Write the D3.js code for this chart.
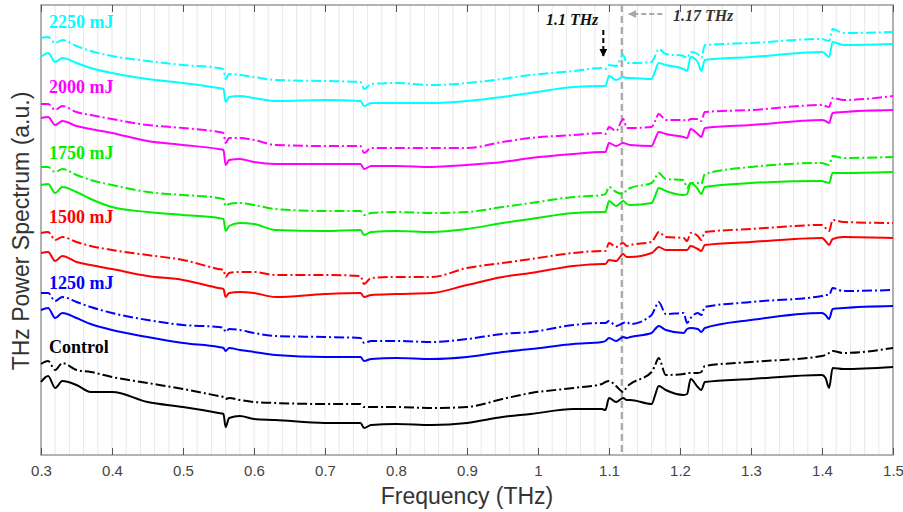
<!DOCTYPE html>
<html>
<head>
<meta charset="utf-8">
<script src="https://cdn.jsdelivr.net/npm/d3@7"></script>
<style>
  body { margin: 0; background: #fff; }
  svg { display: block; }
</style>
</head>
<body>
<svg id="chart"></svg>
<script>
// frequency grid (THz), shared by every trace
const freq = [0.30,0.31,0.32,0.33,0.35,0.37,0.40,0.45,0.50,0.55,0.557,0.56,0.565,0.58,0.60,0.63,0.70,0.75,0.755,0.765,0.80,0.85,0.90,0.95,0.99,1.05,1.09,1.095,1.10,1.11,1.12,1.125,1.13,1.16,1.165,1.17,1.18,1.205,1.21,1.215,1.225,1.23,1.235,1.30,1.40,1.405,1.41,1.415,1.43,1.50];

// power spectrum (a.u., offset per energy) - solid and dash-dot traces
const control_a = [7.3,7.9,6.7,7.4,7.0,6.3,6.3,5.3,4.8,4.2,4.1,2.8,3.7,3.9,3.6,3.5,3.2,3.2,2.7,3.0,3.1,3.0,3.2,3.8,4.1,4.6,4.6,4.5,5.7,5.3,5.7,5.5,5.5,5.1,6.0,6.9,6.5,6.0,6.1,7.6,6.8,6.5,7.3,7.6,8.0,7.7,6.7,8.7,8.6,8.8];
const control_b = [9.1,9.4,8.5,9.2,8.5,8.3,7.8,7.2,6.6,5.9,5.8,5.6,5.7,5.5,5.3,5.2,5.1,5.1,4.8,4.8,4.8,4.7,4.8,5.6,6.2,6.7,7.1,7.3,7.4,6.9,6.3,6.8,7.1,8.3,9.0,9.7,8.0,8.1,8.2,8.2,8.2,8.3,8.9,9.3,9.9,10.0,10.2,10.4,10.2,10.7];
const mj1250_a = [14.5,14.7,13.7,14.2,13.7,13.1,12.5,11.8,11.2,10.8,10.7,10.4,10.7,10.5,10.3,10.0,9.8,9.8,9.4,9.6,9.7,9.6,9.8,10.3,10.6,11.1,11.3,11.4,11.7,11.4,11.8,11.7,11.8,12.2,12.6,12.9,12.5,12.2,12.6,12.7,12.6,12.3,12.7,13.5,14.2,14.0,13.6,14.6,14.7,14.9];
const mj1250_b = [16.2,16.2,15.4,15.8,15.3,14.8,14.2,13.5,13.0,12.8,12.7,12.3,12.6,12.5,12.2,11.9,11.8,11.7,11.2,11.4,11.4,11.3,11.6,12.1,12.3,13.0,13.2,13.2,13.4,12.9,13.2,13.3,13.1,14.0,14.7,15.3,14.1,14.2,13.2,13.7,14.2,14.0,14.8,15.3,15.9,16.0,16.0,16.7,16.4,16.5];
const mj1500_a = [20.2,20.3,19.4,19.9,19.3,19.0,18.6,17.9,17.5,16.7,16.6,15.8,16.2,16.3,16.2,15.8,16.1,16.2,15.8,16.0,16.1,16.2,17.0,17.8,18.2,18.9,19.1,19.1,19.5,19.4,20.1,19.8,19.8,20.2,20.5,20.8,20.5,20.5,20.5,20.9,20.6,20.4,21.0,21.3,21.7,21.4,21.0,21.6,21.8,21.7];
const mj1500_b = [22.2,22.3,21.5,21.8,21.3,20.9,20.5,20.0,19.5,18.6,18.5,17.8,18.2,18.3,18.3,18.0,18.0,17.9,17.1,17.7,17.8,17.8,18.7,19.2,19.6,20.2,20.4,20.4,21.2,20.8,21.2,20.9,21.0,21.3,21.8,22.3,21.8,21.7,21.4,22.2,21.9,21.5,22.3,22.6,23.0,22.7,22.4,23.5,23.3,23.2];
const mj1750_a = [27.0,27.1,26.2,26.8,26.3,25.6,24.8,24.3,24.0,23.7,23.6,22.4,22.9,23.2,23.1,22.5,22.4,22.5,22.0,22.3,22.4,22.3,22.6,23.2,23.6,24.2,24.3,24.3,25.4,24.9,25.4,25.1,25.0,25.2,25.9,26.7,26.4,26.0,26.1,27.2,26.6,26.1,26.8,27.2,27.4,27.3,27.2,28.2,28.2,28.3];
const mj1750_b = [28.8,28.8,28.3,28.6,28.0,27.5,27.0,26.3,26.0,25.7,25.6,24.9,25.1,25.2,25.0,24.6,24.4,24.4,24.0,24.2,24.3,24.2,24.3,24.8,25.2,25.8,26.0,26.1,26.8,26.3,26.1,26.5,26.7,27.2,27.7,28.2,27.6,27.5,26.7,27.2,27.2,27.1,28.1,28.8,29.2,29.1,29.0,29.9,29.7,29.8];
const mj2000_a = [33.7,33.8,33.0,33.4,32.9,32.6,32.2,31.4,31.0,30.6,30.5,29.0,29.5,29.6,29.3,29.1,29.1,29.1,28.6,28.9,28.9,28.8,29.0,29.3,29.7,30.1,30.3,30.3,31.2,30.9,31.2,31.1,31.0,30.9,31.6,32.3,32.1,31.8,31.7,32.6,32.1,31.8,32.7,33.0,33.5,33.4,33.2,34.2,34.3,34.5];
const mj2000_b = [35.1,35.1,34.5,34.9,34.3,34.0,33.6,33.0,32.7,32.3,32.2,31.2,31.7,31.7,31.5,31.0,30.9,30.9,30.2,30.7,30.7,30.7,30.7,31.3,31.7,32.0,32.2,32.1,32.8,32.4,33.6,32.7,32.7,32.8,33.4,34.1,33.5,33.5,33.4,33.6,33.6,33.4,34.3,34.5,35.0,34.9,34.8,35.7,35.5,35.9];
const mj2250_a = [39.8,40.2,39.3,39.7,39.2,38.7,38.2,37.6,37.2,36.7,36.6,35.3,35.8,35.9,35.7,35.4,35.5,35.4,34.9,35.2,35.2,35.2,35.4,35.8,36.2,36.8,36.9,36.9,37.9,37.5,37.8,37.7,37.7,37.6,38.4,39.2,39.0,38.6,38.4,39.8,39.3,38.4,39.5,39.8,40.3,40.1,39.8,41.3,41.0,41.1];
const mj2250_b = [41.7,41.8,41.2,41.5,40.9,40.4,39.9,39.4,39.0,38.7,38.6,37.6,38.1,38.0,37.8,37.5,37.4,37.3,36.6,37.1,37.2,37.0,37.2,37.6,38.0,38.4,38.7,38.6,39.0,38.9,40.0,39.2,39.2,39.3,39.9,40.6,40.1,39.9,39.7,40.3,40.1,39.7,41.0,41.2,41.6,41.5,41.4,42.6,42.2,42.3];

const groupNames = ["Control", "1250 mJ", "1500 mJ", "1750 mJ", "2000 mJ", "2250 mJ"];
const groupColors = ["#000000", "#0000ff", "#ff0000", "#00ee00", "#ff00ff", "#00ffff"];
const solidSeries = [control_a, mj1250_a, mj1500_a, mj1750_a, mj2000_a, mj2250_a];
const dashSeries = [control_b, mj1250_b, mj1500_b, mj1750_b, mj2000_b, mj2250_b];
const labelLevels = [10.2, 16.6, 23.2, 29.6, 36.2, 42.7];

const xTicks = [0.3,0.4,0.5,0.6,0.7,0.8,0.9,1.0,1.1,1.2,1.3,1.4,1.5];
const markerFreq = 1.118;

const W = 903, H = 512;
const margin = {left: 41, right: 10, top: 5, bottom: 57};

const svg = d3.select("#chart").attr("width", W).attr("height", H);

const x = d3.scaleLinear().domain([0.3, 1.5]).range([margin.left, W - margin.right]);
const y = d3.scaleLinear().domain([0, 45]).range([H - margin.bottom, margin.top]);

// minor grid every 0.02 THz
const gridVals = d3.range(0, 61).map(i => 0.3 + i * 0.02);
svg.append("g").selectAll("line").data(gridVals).enter().append("line")
  .attr("x1", d => x(d)).attr("x2", d => x(d))
  .attr("y1", y(45)).attr("y2", y(0))
  .attr("stroke", "#e8e8e8").attr("stroke-width", 1);

// frame
svg.append("rect")
  .attr("x", x(0.3)).attr("y", y(45))
  .attr("width", x(1.5) - x(0.3)).attr("height", y(0) - y(45))
  .attr("fill", "none").attr("stroke", "#9a9a9a").attr("stroke-width", 1.5);

// bottom axis with inward ticks
const xAxis = d3.axisBottom(x).tickValues(xTicks)
  .tickSize(-7).tickPadding(10)
  .tickFormat(d => d3.format("~g")(+d.toFixed(1)));
const gx = svg.append("g").attr("transform", `translate(0,${y(0)})`).call(xAxis);
gx.select(".domain").remove();
gx.selectAll(".tick line").attr("stroke", "#555");
gx.selectAll("text").attr("fill", "#444").style("font-family", "Liberation Sans, Arial, sans-serif").style("font-size", "15px");

// top ticks
const gt = svg.append("g").attr("transform", `translate(0,${y(45)})`)
  .call(d3.axisTop(x).tickValues(xTicks).tickSize(-7).tickFormat(""));
gt.select(".domain").remove();
gt.selectAll(".tick line").attr("stroke", "#555");

// vertical marker line
svg.append("line")
  .attr("x1", x(markerFreq)).attr("x2", x(markerFreq))
  .attr("y1", y(45)).attr("y2", y(0))
  .attr("stroke", "#a8a8a8").attr("stroke-width", 2.2).attr("stroke-dasharray", "7,4");

const line = d3.line().x((d, i) => x(freq[i])).y(d => y(d)).curve(d3.curveMonotoneX);

// traces
solidSeries.forEach((s, k) => {
  svg.append("path").datum(s)
    .attr("d", line).attr("fill", "none")
    .attr("stroke", groupColors[k]).attr("stroke-width", 2)
    .attr("stroke-linejoin", "round");
});
dashSeries.forEach((s, k) => {
  svg.append("path").datum(s)
    .attr("d", line).attr("fill", "none")
    .attr("stroke", groupColors[k]).attr("stroke-width", 2)
    .attr("stroke-dasharray", "10,3,2,3");
});

// group labels
svg.append("g").selectAll("text").data(groupNames).enter().append("text")
  .attr("x", x(0.3) + 8).attr("y", (d, i) => y(labelLevels[i]))
  .attr("fill", (d, i) => groupColors[i])
  .style("font-family", "Liberation Serif, Times New Roman, serif")
  .style("font-weight", "bold").style("font-size", "18px")
  .text(d => d);

// arrow heads
const defs = svg.append("defs");
defs.append("marker").attr("id", "ahBlack").attr("viewBox", "0 0 10 10")
  .attr("refX", 9).attr("refY", 5).attr("markerWidth", 4).attr("markerHeight", 4)
  .attr("orient", "auto").append("path").attr("d", "M0,0L10,5L0,10z").attr("fill", "#000");
defs.append("marker").attr("id", "ahGray").attr("viewBox", "0 0 10 10")
  .attr("refX", 9).attr("refY", 5).attr("markerWidth", 4).attr("markerHeight", 4)
  .attr("orient", "auto").append("path").attr("d", "M0,0L10,5L0,10z").attr("fill", "#a8a8a8");

// 1.1 THz annotation
svg.append("line")
  .attr("x1", x(1.092)).attr("x2", x(1.092))
  .attr("y1", y(42.5)).attr("y2", y(39.9))
  .attr("stroke", "#000").attr("stroke-width", 2).attr("stroke-dasharray", "5,3")
  .attr("marker-end", "url(#ahBlack)");
svg.append("text")
  .attr("x", x(1.085)).attr("y", y(43.0))
  .attr("text-anchor", "end")
  .style("font-family", "Liberation Serif, Times New Roman, serif")
  .style("font-weight", "bold").style("font-style", "italic").style("font-size", "16px")
  .attr("fill", "#111").text("1.1 THz");

// 1.17 THz annotation
svg.append("line")
  .attr("x1", x(1.175)).attr("x2", x(1.128))
  .attr("y1", y(44.1)).attr("y2", y(44.1))
  .attr("stroke", "#a8a8a8").attr("stroke-width", 2).attr("stroke-dasharray", "5,3")
  .attr("marker-end", "url(#ahGray)");
svg.append("text")
  .attr("x", x(1.19)).attr("y", y(43.4))
  .style("font-family", "Liberation Serif, Times New Roman, serif")
  .style("font-weight", "bold").style("font-style", "italic").style("font-size", "16px")
  .attr("fill", "#333").text("1.17 THz");

// axis titles
svg.append("text")
  .attr("x", (x(0.3) + x(1.5)) / 2).attr("y", 504)
  .attr("text-anchor", "middle").attr("fill", "#333")
  .style("font-family", "Liberation Sans, Arial, sans-serif").style("font-size", "23px")
  .text("Frequency (THz)");
svg.append("text")
  .attr("transform", `translate(29,${(y(0) + y(45)) / 2 + 1}) rotate(-90)`)
  .attr("text-anchor", "middle").attr("fill", "#333")
  .style("font-family", "Liberation Sans, Arial, sans-serif").style("font-size", "23px")
  .text("THz Power Spectrum (a.u.)");
</script>
</body>
</html>
